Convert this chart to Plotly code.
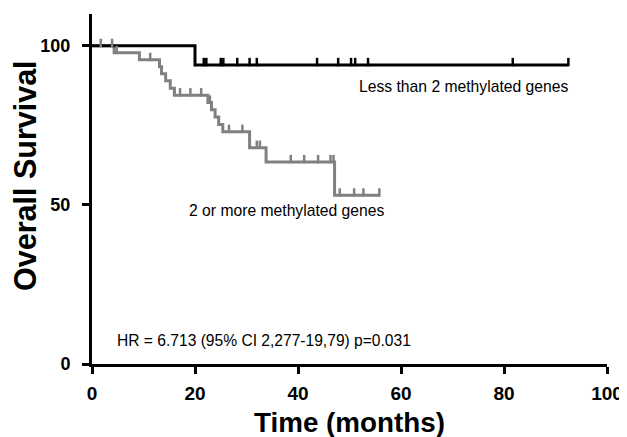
import plotly.graph_objects as go

# ---- data ----
# Kaplan-Meier steps: time of event (months) and survival level after event (%)
grey_times = [0, 4.3, 9.2, 13.1, 13.5, 14.3, 15.2, 16.0, 22.5, 23.2, 23.9, 24.6, 25.4, 30.6, 33.8, 47.1, 55.8]
grey_surv = [100, 97.8, 95.6, 93.4, 91.2, 89.0, 86.7, 84.5, 82.2, 79.9, 77.6, 75.3, 73.0, 68.0, 63.5, 53.0, 53.0]
grey_cens_t = [1.7, 3.9, 4.8, 11.3, 17.1, 19.1, 21.2, 22.9, 26.6, 29.2, 32.0, 32.6, 38.6, 41.2, 43.9, 46.3, 46.9,
               48.1, 50.9, 52.7, 55.8]

black_times = [0, 20.0, 92.5]
black_surv = [100, 94.0, 94.0]
black_cens_t = [21.7, 22.2, 25.0, 25.5, 28.2, 30.6, 32.0, 43.7, 47.8, 50.3, 51.1, 53.6, 81.7, 92.5]

x_ticks = [0, 20, 40, 60, 80, 100]
y_ticks = [0, 50, 100]

label_black = "Less than 2 methylated genes"
label_grey = "2 or more methylated genes"
hr_text = "HR = 6.713 (95% CI 2,277-19,79) p=0.031"


def level_at(times, surv, t):
    lvl = surv[0]
    for ti, si in zip(times, surv):
        if ti <= t:
            lvl = si
    return lvl


GREY = "#808080"
FONT = "Arial, Liberation Sans, sans-serif"
TICK_UP = 0.9  # censor tick raised above the curve (data units)

fig = go.Figure()
fig.add_trace(go.Scatter(x=grey_times, y=grey_surv, mode="lines", line=dict(shape="hv", color=GREY, width=3),
                         showlegend=False, hoverinfo="skip"))
fig.add_trace(go.Scatter(x=black_times, y=black_surv, mode="lines", line=dict(shape="hv", color="black", width=3),
                         showlegend=False, hoverinfo="skip"))
fig.add_trace(go.Scatter(x=grey_cens_t, y=[level_at(grey_times, grey_surv, t) + TICK_UP for t in grey_cens_t],
                         mode="markers",
                         marker=dict(symbol="line-ns", size=6, line=dict(color=GREY, width=2.5)),
                         showlegend=False, hoverinfo="skip"))
fig.add_trace(go.Scatter(x=black_cens_t, y=[level_at(black_times, black_surv, t) + TICK_UP for t in black_cens_t],
                         mode="markers",
                         marker=dict(symbol="line-ns", size=6, line=dict(color="black", width=2.5)),
                         showlegend=False, hoverinfo="skip"))

fig.add_annotation(x=72.1, y=87.3, text=label_black, showarrow=False, xanchor="center", yanchor="middle",
                   font=dict(family=FONT, size=15.7, color="black"))
fig.add_annotation(x=37.7, y=48.3, text=label_grey, showarrow=False, xanchor="center", yanchor="middle",
                   font=dict(family=FONT, size=15.7, color="black"))
fig.add_annotation(x=4.5, y=7.4, text=hr_text, showarrow=False, xanchor="left", yanchor="middle",
                   font=dict(family=FONT, size=15.6, color="black"))

# axis titles
fig.add_annotation(xref="paper", yref="paper", x=0.5, y=0, yshift=-58, text="<b>Time (months)</b>",
                   showarrow=False, xanchor="center", yanchor="middle",
                   font=dict(family=FONT, size=27.8, color="black"))
fig.add_annotation(xref="paper", yref="paper", x=0, y=0.5, xshift=-67, yshift=13, text="<b>Overall Survival</b>",
                   textangle=-90, showarrow=False, xanchor="center", yanchor="middle",
                   font=dict(family=FONT, size=30.5, color="black"))

fig.update_xaxes(range=[0, 100], tickvals=x_ticks, ticktext=[str(v) for v in x_ticks],
                 showline=True, linecolor="black", linewidth=3, ticks="outside", ticklen=7, tickwidth=2.5,
                 tickcolor="black", showgrid=False, zeroline=False, ticklabelstandoff=3,
                 tickfont=dict(family=FONT, size=19, color="black", weight="bold"))
fig.update_yaxes(range=[0, 110], tickvals=y_ticks, ticktext=[str(v) for v in y_ticks],
                 showline=True, linecolor="black", linewidth=3, ticks="outside", ticklen=7, tickwidth=2.5,
                 tickcolor="black", showgrid=False, zeroline=False, ticklabelstandoff=8,
                 tickfont=dict(family=FONT, size=18, color="black", weight="bold"))

# the page body adds an 8px offset, so margins compensate for it
fig.update_layout(width=627, height=437, margin=dict(l=84, r=28, t=6, b=81),
                  plot_bgcolor="white", paper_bgcolor="white", showlegend=False)

fig.write_html("out.html")
